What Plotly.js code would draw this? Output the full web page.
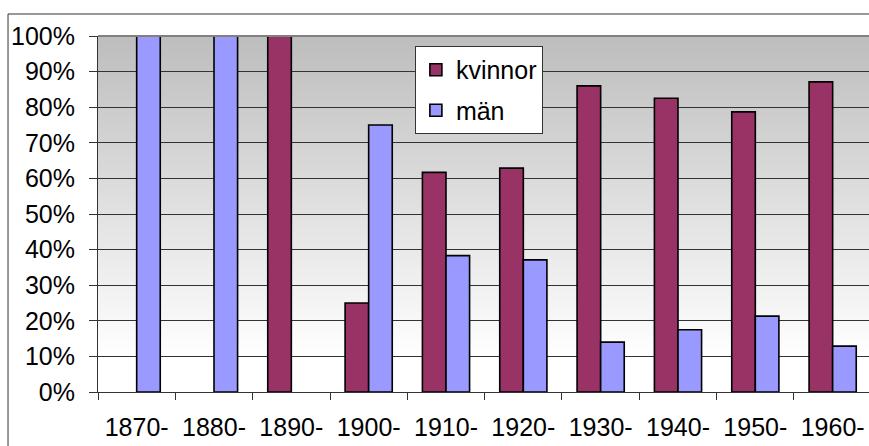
<!DOCTYPE html>
<html>
<head>
<meta charset="utf-8">
<script src="https://cdn.plot.ly/plotly-3.0.1.min.js"></script>
<style>html,body{margin:0;padding:0;background:#fff;}#chart{width:869px;height:446px;}</style>
</head>
<body>
<div id="chart"></div>
<script>
var categories = ["1870-", "1880-", "1890-", "1900-", "1910-", "1920-", "1930-", "1940-", "1950-", "1960-"];
var kvinnor = [null, null, 100, 25, 61.7, 62.9, 86.0, 82.5, 78.7, 87.1];
var man = [100, 100, null, 75, 38.3, 37.1, 14.0, 17.5, 21.3, 12.9];
var seriesNames = ["kvinnor", "män"];
var yTicks = [0, 10, 20, 30, 40, 50, 60, 70, 80, 90, 100];

var gradSvg = '<svg xmlns="http://www.w3.org/2000/svg" width="10" height="100" preserveAspectRatio="none">' +
  '<defs><linearGradient id="g" x1="0" y1="0" x2="0" y2="1">' +
  '<stop offset="0" stop-color="#bdbdbd"/><stop offset="0.9" stop-color="#ffffff"/><stop offset="1" stop-color="#ffffff"/>' +
  '</linearGradient></defs><rect width="10" height="100" fill="url(#g)"/></svg>';
var gradUrl = 'data:image/svg+xml;base64,' + btoa(gradSvg);

var font = {family: "Liberation Sans, Arial, sans-serif", size: 25, color: "#000"};

var traces = [
  {type: "bar", name: seriesNames[0], x: categories, y: kvinnor, legendgroup: "a",
   marker: {color: "#993366", line: {color: "#000", width: 1.6}}, hoverinfo: "skip"},
  {type: "bar", name: seriesNames[1], x: categories, y: man, legendgroup: "b",
   marker: {color: "#9999FF", line: {color: "#000", width: 1.6}}, hoverinfo: "skip"}
];

var layout = {
  width: 869, height: 446,
  margin: {l: 98, r: 0, t: 36, b: 54, pad: 0},
  paper_bgcolor: "#fff",
  plot_bgcolor: "rgba(0,0,0,0)",
  font: font,
  barmode: "group",
  bargap: 0.39,
  bargroupgap: 0,
  showlegend: true,
  legend: {x: 0.411, y: 0.972, xanchor: "left", yanchor: "top", bgcolor: "#fff",
           bordercolor: "#333", borderwidth: 1, font: font, traceorder: "grouped",
           tracegroupgap: 5},
  xaxis: {type: "category", range: [-0.5, 9.47], showline: true, linecolor: "#333", linewidth: 1,
          ticks: "outside", tickson: "boundaries", ticklen: 7, tickcolor: "#333",
          showgrid: false, zeroline: false, tickfont: font, ticklabelstandoff: 13, fixedrange: true},
  yaxis: {range: [0, 100], tickvals: yTicks, ticktext: yTicks.map(function(v){return v + "%";}),
          showline: true, linecolor: "#333", linewidth: 1, ticks: "outside", ticklen: 8,
          tickcolor: "#333", showgrid: true, gridcolor: "#333", gridwidth: 1, zeroline: false,
          tickfont: font, ticklabelstandoff: 9, fixedrange: true},
  images: [{source: gradUrl, xref: "paper", yref: "paper", x: 0, y: 1, sizex: 1, sizey: 1,
            xanchor: "left", yanchor: "top", sizing: "stretch", layer: "below"}],
  shapes: [
    {type: "line", xref: "paper", yref: "paper", x0: 0, x1: 1, y0: 1, y1: 1,
     line: {color: "#808080", width: 2}},
    {type: "rect", xref: "paper", yref: "paper", x0: -0.1167, x1: 1.3, y0: -0.5, y1: 1.0618,
     line: {color: "#333", width: 1}, fillcolor: "rgba(0,0,0,0)", layer: "above"}
  ]
};

Plotly.newPlot("chart", traces, layout, {displayModeBar: false, staticPlot: true});
</script>
</body>
</html>
